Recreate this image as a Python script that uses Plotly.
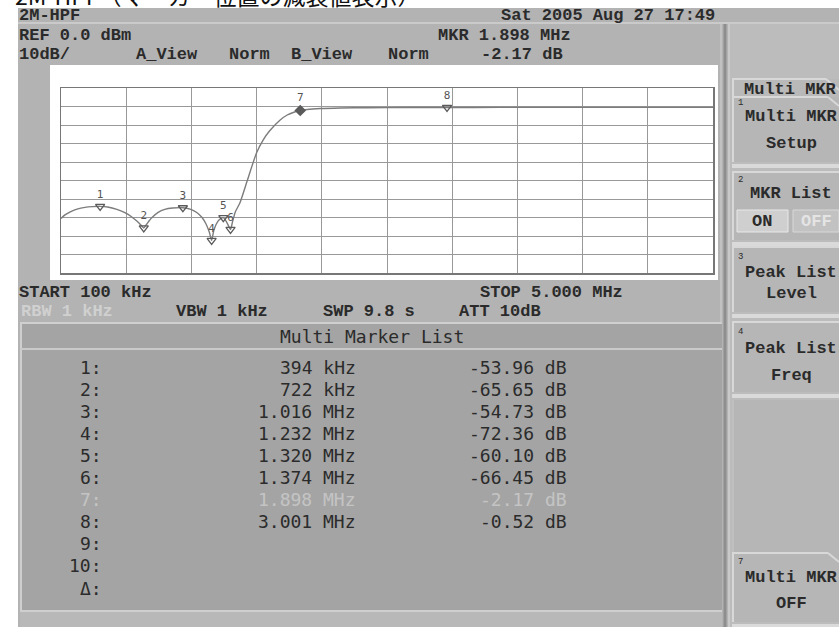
import plotly.graph_objects as go

W, H = 839, 627

# ---------------- data ----------------
trace_freq_mhz = [0.10, 0.13, 0.17, 0.22, 0.28, 0.34, 0.394, 0.45, 0.52, 0.58, 0.63, 0.67, 0.70, 0.722,
                  0.745, 0.78, 0.83, 0.88, 0.94, 1.016, 1.07, 1.12, 1.16, 1.19, 1.215, 1.232, 1.25, 1.28,
                  1.30, 1.32, 1.345, 1.374, 1.39, 1.41, 1.445, 1.50, 1.57, 1.62, 1.67, 1.745, 1.80, 1.85,
                  1.898, 1.95, 2.05, 2.2, 2.4, 2.7, 3.001, 3.4, 3.9, 4.4, 5.0]
trace_level_db = [-60.5, -58.6, -56.9, -55.5, -54.5, -54.1, -53.96, -54.3, -55.6, -57.4, -59.6, -61.9, -64.0, -65.65,
                  -63.5, -60.3, -57.2, -55.6, -54.9, -54.73, -55.5, -57.3, -60.0, -63.5, -68.0, -72.36, -66.5, -62.0,
                  -60.6, -60.10, -62.5, -66.45, -62.0, -57.0, -52.0, -40.0, -25.0, -18.0, -13.0, -7.4, -4.6, -3.1,
                  -2.17, -1.6, -1.1, -0.8, -0.65, -0.57, -0.52, -0.5, -0.48, -0.47, -0.46]

marker_no = ["1", "2", "3", "4", "5", "6", "7", "8"]
marker_freq_mhz = [0.394, 0.722, 1.016, 1.232, 1.320, 1.374, 1.898, 3.001]
marker_level_db = [-53.96, -65.65, -54.73, -72.36, -60.10, -66.45, -2.17, -0.52]
active_marker = "7"

list_rows = ["1:", "2:", "3:", "4:", "5:", "6:", "7:", "8:", "9:", "10:", "Δ:"]

start_mhz, stop_mhz = 0.1, 5.0
ref_top_db, ref_bottom_db = 10, -90

header_texts = {
    "title": "2M-HPF",
    "date": "Sat 2005 Aug 27 17:49",
    "ref": "REF 0.0 dBm",
    "mkr": "MKR 1.898 MHz",
    "scale": "10dB/",
    "aview": "A_View", "anorm": "Norm", "bview": "B_View", "bnorm": "Norm",
    "mkrval": "-2.17 dB",
    "start": "START 100 kHz", "stop": "STOP 5.000 MHz",
    "rbw": "RBW 1 kHz", "vbw": "VBW 1 kHz", "swp": "SWP 9.8 s", "att": "ATT 10dB",
}
page_title = "2M-HPF（マーカー位置の減衰値表示）"

# ---------------- helpers ----------------
def X(px):
    return px / W

def Y(py):
    return 1 - py / H

shapes = []
annos = []

def rect(x0, y0, x1, y1, fill, line=None, lw=0):
    shapes.append(dict(type="rect", xref="paper", yref="paper", x0=X(x0), x1=X(x1), y0=Y(y1), y1=Y(y0),
                       fillcolor=fill, line=dict(color=line or fill, width=lw), layer="below"))

def hline(x0, x1, y, color, w=1):
    shapes.append(dict(type="line", xref="paper", yref="paper", x0=X(x0), x1=X(x1), y0=Y(y), y1=Y(y),
                       line=dict(color=color, width=w), layer="below"))

def vline(x, y0, y1, color, w=1):
    shapes.append(dict(type="line", xref="paper", yref="paper", x0=X(x), x1=X(x), y0=Y(y0), y1=Y(y1),
                       line=dict(color=color, width=w), layer="below"))

def seg(x0, y0, x1, y1, color, w=1):
    shapes.append(dict(type="line", xref="paper", yref="paper", x0=X(x0), x1=X(x1), y0=Y(y0), y1=Y(y1),
                       line=dict(color=color, width=w), layer="below"))

MONO = "Liberation Mono"
TXT = "#2b2b2b"

def text(x, y, s, anchor="left", size=17, color=TXT, family=MONO, weight="bold"):
    annos.append(dict(xref="paper", yref="paper", x=X(x), y=Y(y), text=s, showarrow=False,
                      xanchor=anchor, yanchor="middle", borderpad=0,
                      font=dict(family=family, size=size, color=color, weight=weight)))

# ---------------- background panels ----------------
rect(18, 8, 839, 627, "#b3b3b3")            # screen
hline(18, 839, 23, "#d2d2d2", 1.5)          # top bar separator
rect(728, 24, 839, 627, "#bcbcbc")          # softkey column
vline(721, 24, 627, "#d0d0d0", 1)
vline(725, 24, 627, "#8e8e8e", 3)
vline(729, 24, 627, "#d6d6d6", 1)
rect(50, 65, 718, 280, "#ffffff")           # white graticule panel

# table panel
rect(20, 323, 722, 610, "#a4a4a4")
hline(20, 722, 323, "#cfcfcf", 2)
vline(21, 323, 610, "#cfcfcf", 2)
hline(20, 722, 349, "#cacaca", 2)
hline(20, 722, 611, "#cfcfcf", 2)
rect(20, 612, 722, 627, "#b8b8b8")

# softkeys
def softkey(y0, y1, tab=False):
    rect(732, y0, 839, y1, "#b6b6b6")
    vline(733, y0, y1, "#d8d8d8", 2)
    if tab:
        hline(732, 828, y0, "#d8d8d8", 2)
        seg(828, y0, 839, y0 + 9, "#d8d8d8", 2)
    else:
        hline(732, 839, y0, "#d8d8d8", 2)
    hline(732, 839, y1 + 4, "#dadada", 4)

# menu title tab
rect(732, 79, 839, 97, "#b9b9b9")
hline(732, 826, 79, "#d8d8d8", 2)
seg(826, 79, 839, 90, "#d8d8d8", 2)
vline(733, 79, 97, "#d8d8d8", 2)

softkey(97, 162, tab=True)
softkey(172, 240)
softkey(247, 312)
softkey(322, 392)
rect(732, 400, 839, 553, "#b6b6b6")
vline(733, 400, 553, "#c8c8c8", 1)
softkey(553, 622, tab=True)

# ON / OFF buttons
rect(737, 210, 788, 232, "#cfcfcf", "#e8e8e8", 1)
rect(793, 210, 839, 232, "#c2c2c2", "#d8d8d8", 1)

# ---------------- figure ----------------
fig = go.Figure()

fig.add_trace(go.Scatter(x=trace_freq_mhz, y=trace_level_db, mode="lines",
                         line=dict(color="#7c7c7c", width=1.4, shape="spline", smoothing=0.6),
                         hoverinfo="skip", showlegend=False))

normal = [i for i, m in enumerate(marker_no) if m != active_marker]
act = [i for i, m in enumerate(marker_no) if m == active_marker]

fig.add_trace(go.Scatter(x=[marker_freq_mhz[i] for i in normal], y=[marker_level_db[i] for i in normal],
                         mode="markers+text", text=[marker_no[i] for i in normal], textposition="top center",
                         textfont=dict(family="DejaVu Sans Mono", size=11, color="#555555"),
                         marker=dict(symbol="triangle-down-open", size=8, color="#5a5a5a", line=dict(width=1.3)),
                         hoverinfo="skip", showlegend=False))
fig.add_trace(go.Scatter(x=[marker_freq_mhz[i] for i in act], y=[marker_level_db[i] for i in act],
                         mode="markers+text", text=[marker_no[i] for i in act], textposition="top center",
                         textfont=dict(family="DejaVu Sans Mono", size=11, color="#555555"),
                         marker=dict(symbol="diamond", size=9, color="#5a5a5a"),
                         hoverinfo="skip", showlegend=False))

# ---------------- header / footer texts ----------------
text(18, 15, header_texts["title"])
text(500, 15, header_texts["date"])
text(18, 35, header_texts["ref"])
text(437, 35, header_texts["mkr"])
text(18, 54, header_texts["scale"])
text(135, 54, header_texts["aview"])
text(228, 54, header_texts["anorm"])
text(290, 54, header_texts["bview"])
text(387, 54, header_texts["bnorm"])
text(480, 54, header_texts["mkrval"])
text(18, 292, header_texts["start"])
text(479, 292, header_texts["stop"])
text(20, 311, header_texts["rbw"], color="#d0d0d0")
text(175, 311, header_texts["vbw"])
text(322, 311, header_texts["swp"])
text(458, 311, header_texts["att"])

# page title (cut off at top)
annos.append(dict(xref="paper", yref="paper", x=X(13), y=Y(-5), text=page_title, showarrow=False,
                  xanchor="left", yanchor="middle",
                  font=dict(family="Noto Sans CJK JP", size=23, color="#111111")))

# ---------------- table ----------------
text(372, 336, "Multi Marker List", anchor="center", size=18, family="DejaVu Sans Mono", weight="normal")

def fmt_freq(f):
    if f < 1:
        return f"{f*1000:.0f} kHz"
    return f"{f:.3f} MHz"

row_y0, row_dy = 367, 22.1
for r, lab in enumerate(list_rows):
    yy = row_y0 + r * row_dy
    faded = (lab == active_marker + ":")
    col = "#c4c4c4" if faded else TXT
    text(103, yy, lab, anchor="right", size=18, family="DejaVu Sans Mono", color=col, weight="normal")
    if r < len(marker_no):
        text(357, yy, fmt_freq(marker_freq_mhz[r]), anchor="right", size=18, family="DejaVu Sans Mono",
             color=col, weight="normal")
        text(568, yy, f"{marker_level_db[r]:.2f} dB", anchor="right", size=18, family="DejaVu Sans Mono",
             color=col, weight="normal")

# ---------------- softkey texts ----------------
text(790, 89, "Multi MKR", anchor="center")
def keytxt(num, y_num, lines):
    text(737, y_num, num, size=9, weight="normal")
    for (yy, s) in lines:
        text(791, yy, s, anchor="center")

keytxt("1", 103, [(116, "Multi MKR"), (143, "Setup")])
keytxt("2", 180, [(193, "MKR List")])
text(762, 221, "ON", anchor="center")
text(816, 221, "OFF", anchor="center", color="#e4e4e4")
keytxt("3", 257, [(272, "Peak List"), (293, "Level")])
keytxt("4", 332, [(348, "Peak List"), (375, "Freq")])
keytxt("7", 562, [(577, "Multi MKR"), (603, "OFF")])

fig.update_layout(
    width=W, height=H, margin=dict(l=0, r=0, t=0, b=0),
    paper_bgcolor="#ffffff", plot_bgcolor="rgba(0,0,0,0)",
    shapes=shapes, annotations=annos, showlegend=False,
    xaxis=dict(domain=[X(61), X(713)], range=[start_mhz, stop_mhz], tickmode="linear", tick0=start_mhz,
               dtick=(stop_mhz - start_mhz) / 10, showticklabels=False, ticks="", showgrid=True,
               gridcolor="#999999", gridwidth=1, zeroline=False, showline=True, mirror=True,
               linecolor="#777777", linewidth=1.5, fixedrange=True),
    yaxis=dict(domain=[Y(273), Y(88)], range=[ref_bottom_db, ref_top_db], tickmode="linear", tick0=ref_bottom_db,
               dtick=10, showticklabels=False, ticks="", showgrid=True, gridcolor="#999999", gridwidth=1,
               zeroline=False, showline=True, mirror=True, linecolor="#777777", linewidth=1.5, fixedrange=True),
)

fig.write_html("out.html", config={"staticPlot": True},
               post_script="document.body.style.margin='0px';document.body.style.overflow='hidden';")
